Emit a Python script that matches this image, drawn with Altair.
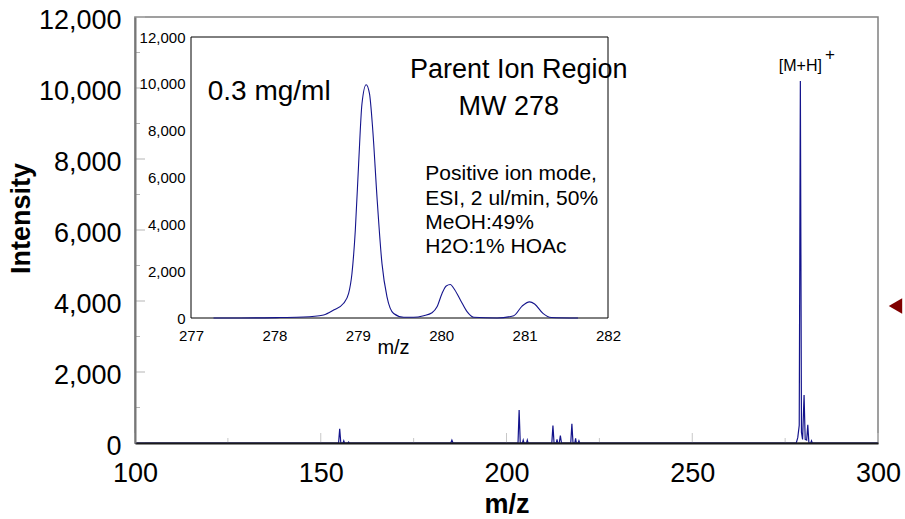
import altair as alt
import pandas as pd

FONT = "Liberation Sans"
W, H = 743, 426

# ---------------- main spectrum (m/z, intensity) ----------------
main_mz = [100, 154.8, 155.1, 155.4, 156.0, 156.2, 156.4, 157.3, 157.5, 157.7,
           185.0, 185.3, 185.6,
           203.1, 203.4, 203.7, 204.3, 204.5, 204.7, 205.4, 205.6, 205.8,
           212.2, 212.5, 212.8, 213.4, 213.6, 213.8, 214.2, 214.5, 214.8,
           217.3, 217.6, 217.9, 218.4, 218.6, 218.8, 219.3, 219.5, 219.7,
           278.0, 278.4, 278.8, 279.1, 279.4, 279.7, 280.1, 280.4, 280.8, 281.1, 281.4,
           281.9, 282.1, 282.3, 300]
main_int = [0, 0, 400, 0, 0, 60, 0, 0, 30, 0,
            0, 80, 0,
            0, 930, 0, 0, 80, 0, 0, 80, 0,
            0, 490, 0, 0, 100, 0, 0, 210, 0,
            0, 540, 0, 0, 130, 0, 0, 60, 0,
            0, 150, 500, 10200, 300, 100, 1350, 100, 80, 510, 0,
            0, 60, 0, 0]

main_x_domain = [100, 300]
main_y_domain = [0, 12000]
main_x_ticks = [100, 150, 200, 250, 300]
main_x_minor = [125, 175, 225, 275]
main_y_ticks = [0, 2000, 4000, 6000, 8000, 10000, 12000]
main_y_minor = [1000, 3000, 5000, 7000, 9000, 11000]

# ---------------- inset (parent ion region) ----------------
inset_mz = [277.27, 277.6, 278.07, 278.35, 278.59, 278.71, 278.83, 278.89, 278.93, 278.97,
            279.01, 279.05, 279.10, 279.14, 279.18, 279.23, 279.29, 279.35, 279.43, 279.55,
            279.67, 279.79, 279.89, 279.95, 280.01, 280.06, 280.11, 280.15, 280.23, 280.31,
            280.39, 280.67, 280.87, 280.97, 281.06, 281.12, 281.22, 281.32, 281.64]
inset_int = [0, 0, 20, 40, 130, 340, 630, 1050, 1900, 3740,
             6590, 9150, 9960, 9580, 8000, 5170, 2320, 900, 190, 30,
             30, 100, 226, 480, 1050, 1370, 1430, 1270, 770, 270,
             30, 0, 100, 510, 690, 600, 200, 20, 0]
inset_x_domain = [277, 282]
inset_y_domain = [0, 12000]
inset_x_ticks = [277, 278, 279, 280, 281, 282]
inset_y_ticks = [0, 2000, 4000, 6000, 8000, 10000, 12000]

# annotations
conc_label = ["0.3 mg/ml"]
conc_mz = [277.20]
conc_int = [9310]
title_labels = ["Parent Ion Region", "MW 278"]
title_mz = [280.93, 280.81]
title_int = [10250, 8670]
cond_labels = ["Positive ion mode,", "ESI, 2 ul/min, 50%", "MeOH:49%", "H2O:1% HOAc"]
cond_mz = [279.81, 279.81, 279.81, 279.81]
cond_int = [5890, 4825, 3790, 2760]
ion_label = ["[M+H]"]
ion_mz = [279.1]
ion_int = [10465]
plus_label = ["+"]
plus_mz = [285.7]
plus_int = [10800]
marker_mz = [304.7]
marker_int = [3860]

# ---------------- main scales ----------------
xs_main = alt.Scale(domain=main_x_domain, range=[0, W], nice=False, zero=False)
ys_main = alt.Scale(domain=main_y_domain, range=[H, 0], nice=False, zero=False)

main_df = pd.DataFrame({"mz": main_mz, "intensity": main_int})
frame_df = pd.DataFrame({"x": [main_x_domain[0]], "x2": [main_x_domain[1]],
                         "y": [main_y_domain[0]], "y2": [main_y_domain[1]]})

x_axis = alt.Axis(orient="bottom", values=main_x_ticks, format="d", labelFont=FONT,
                  labelFontSize=27, labelColor="black", labelPadding=17, labelFlush=False,
                  labelOverlap=False, ticks=False, grid=False,
                  domainColor="#1a1a1a", domainWidth=2, zindex=1,
                  title="m/z", titleFont=FONT, titleFontSize=27, titleFontWeight="bold",
                  titleColor="black", titleX=W / 2, titleY=69, titleBaseline="alphabetic")
y_axis = alt.Axis(orient="left", values=main_y_ticks, format=",.0f", labelFont=FONT,
                  labelFontSize=27, labelColor="black", labelPadding=14, labelFlush=False,
                  labelOffset=3,
                  labelOverlap=False, ticks=False, grid=False,
                  domainColor="#777777", domainWidth=2, zindex=1,
                  title="Intensity", titleFont=FONT, titleFontSize=27, titleFontWeight="bold",
                  titleColor="black", titleAngle=270, titleX=-106, titleY=201,
                  titleBaseline="alphabetic", titleAlign="center")

frame = alt.Chart(frame_df).mark_rect(fillOpacity=0, stroke="#808080", strokeWidth=1.5).encode(
    x=alt.X("x:Q", scale=xs_main, axis=None),
    x2="x2:Q",
    y=alt.Y("y:Q", scale=ys_main, axis=None),
    y2="y2:Q",
)

ytick_major = alt.Chart(pd.DataFrame({"v": main_y_ticks})).mark_rule(color="#b5b5b5", strokeWidth=1).encode(
    y=alt.Y("v:Q", scale=ys_main, axis=None), x=alt.value(0), x2=alt.value(10))
ytick_minor = alt.Chart(pd.DataFrame({"v": main_y_minor})).mark_rule(color="#b5b5b5", strokeWidth=1).encode(
    y=alt.Y("v:Q", scale=ys_main, axis=None), x=alt.value(0), x2=alt.value(5))
xtick_major = alt.Chart(pd.DataFrame({"v": main_x_ticks})).mark_rule(color="#c8c8c8", strokeWidth=1).encode(
    x=alt.X("v:Q", scale=xs_main, axis=None), y=alt.value(H), y2=alt.value(H - 10))
xtick_minor = alt.Chart(pd.DataFrame({"v": main_x_minor})).mark_rule(color="#c8c8c8", strokeWidth=1).encode(
    x=alt.X("v:Q", scale=xs_main, axis=None), y=alt.value(H), y2=alt.value(H - 5))

spectrum = alt.Chart(main_df).mark_line(color="#14148c", strokeWidth=1.2).encode(
    x=alt.X("mz:Q", scale=xs_main, axis=x_axis),
    y=alt.Y("intensity:Q", scale=ys_main, axis=y_axis),
    order="mz:Q",
)

ion_text = alt.Chart(pd.DataFrame({"mz": ion_mz, "intensity": ion_int, "t": ion_label})).mark_text(
    font=FONT, fontSize=16, color="black", align="center", baseline="alphabetic").encode(
    x=alt.X("mz:Q", scale=xs_main, axis=None), y=alt.Y("intensity:Q", scale=ys_main, axis=None), text="t:N")
plus_text = alt.Chart(pd.DataFrame({"mz": plus_mz, "intensity": plus_int, "t": plus_label})).mark_text(
    font=FONT, fontSize=17, color="black", align="left", baseline="alphabetic").encode(
    x=alt.X("mz:Q", scale=xs_main, axis=None), y=alt.Y("intensity:Q", scale=ys_main, axis=None), text="t:N")

marker = alt.Chart(pd.DataFrame({"mz": marker_mz, "intensity": marker_int})).mark_point(
    shape="triangle-left", size=240, filled=True, color="#800000", opacity=1, clip=False).encode(
    x=alt.X("mz:Q", scale=xs_main, axis=None), y=alt.Y("intensity:Q", scale=ys_main, axis=None))

# ---------------- inset scales (pixel ranges inside the plot area) ----------------
xs_in = alt.Scale(domain=inset_x_domain, range=[56, 473], nice=False, zero=False)
ys_in = alt.Scale(domain=inset_y_domain, range=[301, 20], nice=False, zero=False)

inset_x_axis = alt.Axis(orient="bottom", offset=-125, values=inset_x_ticks, format="d",
                        labelFont=FONT, labelFontSize=15, labelColor="black", labelPadding=10,
                        labelFlush=False, labelOverlap=False, ticks=False,
                        domain=False, grid=False, zindex=1,
                        title="m/z", titleFont=FONT, titleFontSize=20, titleFontWeight="normal",
                        titleColor="black", titleX=258, titleY=35, titleBaseline="alphabetic")
inset_y_axis = alt.Axis(orient="left", offset=-56, values=inset_y_ticks, format=",.0f",
                        labelFont=FONT, labelFontSize=15, labelColor="black", labelPadding=6,
                        labelFlush=False, labelOverlap=False, ticks=False,
                        domain=False, grid=False, zindex=1, title="")

inset_frame_df = pd.DataFrame({"x": [inset_x_domain[0]], "x2": [inset_x_domain[1]],
                               "y": [inset_y_domain[0]], "y2": [inset_y_domain[1]]})
inset_box = alt.Chart(inset_frame_df).mark_rect(fill="white", stroke="black", strokeWidth=1).encode(
    x=alt.X("x:Q", scale=xs_in, axis=None), x2="x2:Q",
    y=alt.Y("y:Q", scale=ys_in, axis=None), y2="y2:Q")

inset_df = pd.DataFrame({"mz": inset_mz, "intensity": inset_int})
inset_line = alt.Chart(inset_df).mark_line(color="#14148c", strokeWidth=1.1, interpolate="monotone").encode(
    x=alt.X("mz:Q", scale=xs_in, axis=inset_x_axis),
    y=alt.Y("intensity:Q", scale=ys_in, axis=inset_y_axis),
    order="mz:Q",
)

def inset_text(labels, mzs, ints, size, align):
    df = pd.DataFrame({"mz": mzs, "intensity": ints, "t": labels})
    return alt.Chart(df).mark_text(font=FONT, fontSize=size, color="black", align=align,
                                   baseline="alphabetic").encode(
        x=alt.X("mz:Q", scale=xs_in, axis=None),
        y=alt.Y("intensity:Q", scale=ys_in, axis=None),
        text="t:N")

chart = alt.layer(
    frame, ytick_major, ytick_minor, xtick_major, xtick_minor,
    spectrum, ion_text, plus_text, marker,
    inset_box, inset_line,
    inset_text(conc_label, conc_mz, conc_int, 28, "left"),
    inset_text(title_labels, title_mz, title_int, 27, "center"),
    inset_text(cond_labels, cond_mz, cond_int, 21, "left"),
).resolve_scale(
    x="independent", y="independent"
).resolve_axis(
    x="independent", y="independent"
).properties(
    width=W, height=H,
    autosize=alt.AutoSizeParams(type="none"),
    padding={"left": 135, "top": 17, "right": 905 - 135 - W, "bottom": 519 - 17 - H},
    background="white",
).configure_view(stroke=None)

chart.save("out.html", embed_options={"renderer": "svg", "actions": False})
